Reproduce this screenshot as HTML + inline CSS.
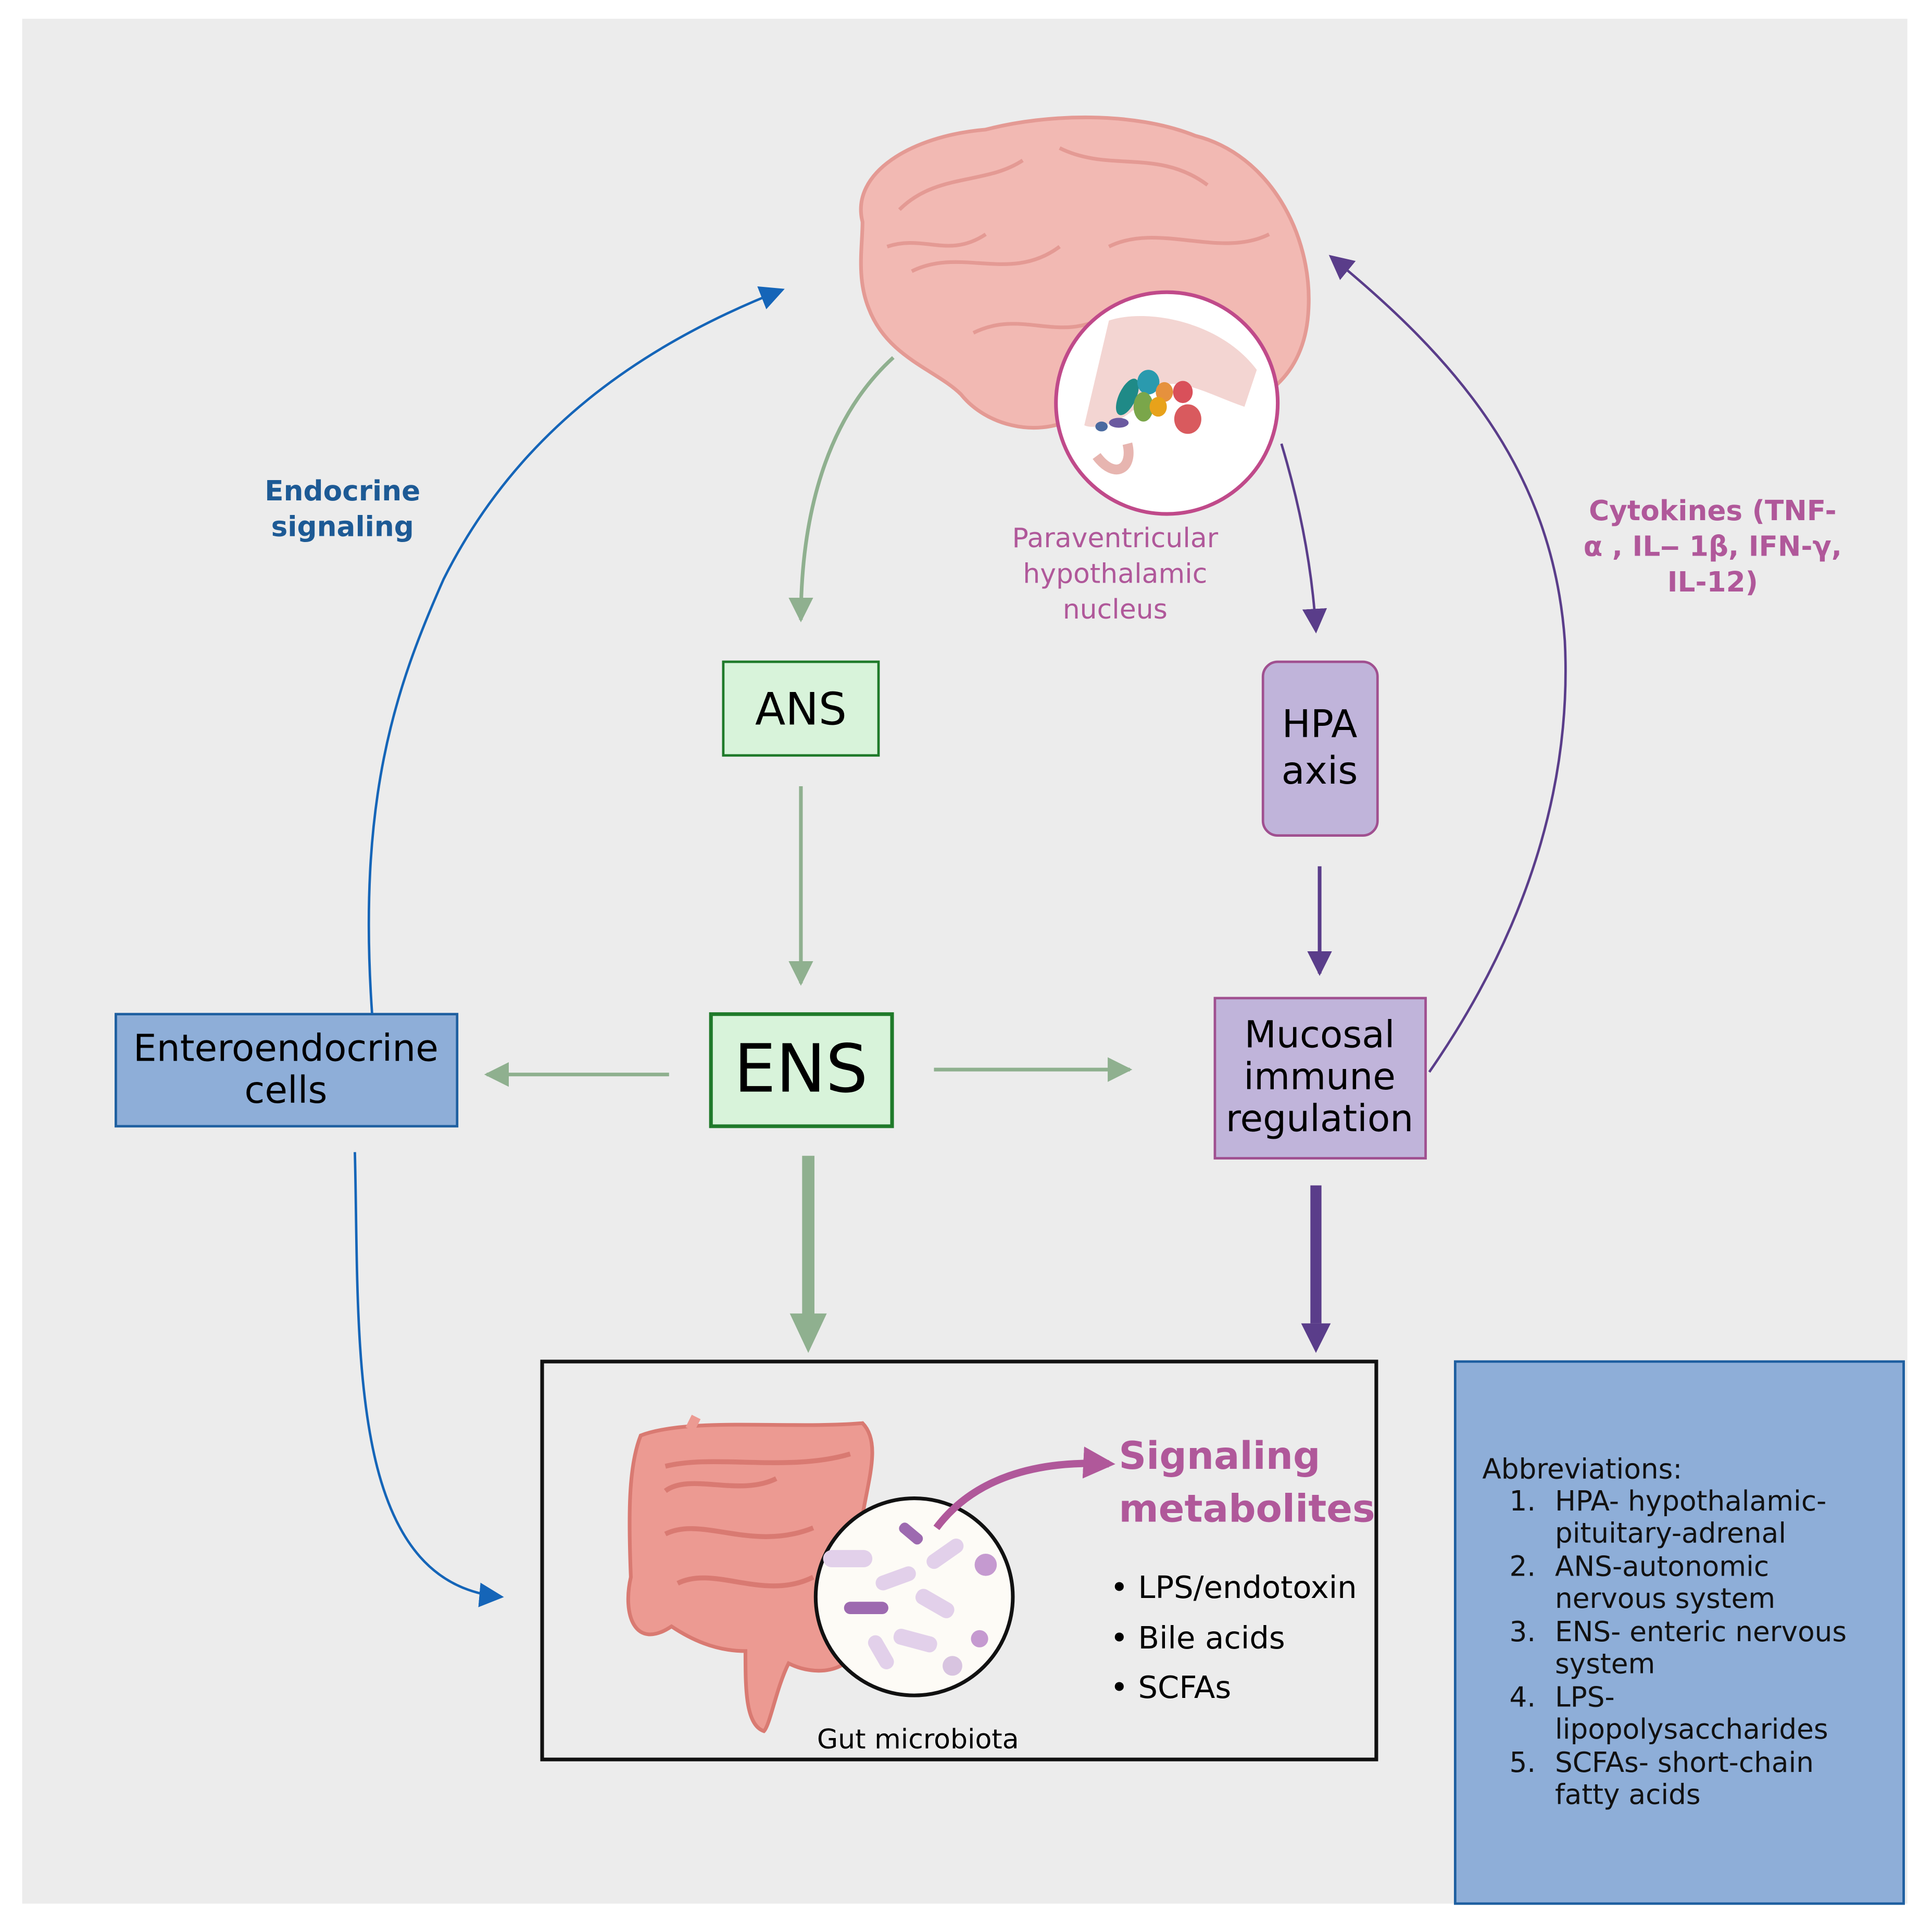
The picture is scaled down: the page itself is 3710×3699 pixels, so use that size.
<!DOCTYPE html>
<html><head><meta charset="utf-8"><style>
html,body{margin:0;padding:0;background:#fff}
svg{display:block}
text{font-family:"DejaVu Sans","Liberation Sans",sans-serif}
</style></head><body>
<svg width="3710" height="3699" viewBox="0 0 1568 1563" xmlns="http://www.w3.org/2000/svg">
<defs>
<marker id="gs" viewBox="0 0 10 10" refX="9" refY="5" markerWidth="20" markerHeight="20" orient="auto" markerUnits="userSpaceOnUse"><path d="M0,0L10,5L0,10z" fill="#8fb08f"/></marker>
<marker id="ps" viewBox="0 0 10 10" refX="9" refY="5" markerWidth="20" markerHeight="20" orient="auto" markerUnits="userSpaceOnUse"><path d="M0,0L10,5L0,10z" fill="#5a3d8a"/></marker>
<marker id="bs" viewBox="0 0 10 10" refX="9" refY="5" markerWidth="20" markerHeight="20" orient="auto" markerUnits="userSpaceOnUse"><path d="M0,0L10,5L0,10z" fill="#1565b8"/></marker>
<marker id="ms" viewBox="0 0 10 10" refX="8" refY="5" markerWidth="26" markerHeight="26" orient="auto" markerUnits="userSpaceOnUse"><path d="M0,0L10,5L0,10z" fill="#b0589a"/></marker>
</defs>
<rect x="18" y="15" width="1530" height="1530" fill="#ececec"/>

<!-- brain -->
<path d="M700,180 C690,140 740,110 800,105 C850,92 920,90 970,110 C1030,125 1065,190 1062,250 C1060,300 1030,330 980,335 C940,345 900,330 870,340 C840,355 800,345 780,320 C760,300 720,290 705,250 C695,225 700,200 700,180z" fill="#f2b9b3" stroke="#e49a94" stroke-width="3"/>
<path d="M730,170 C760,140 800,150 830,130 M860,120 C900,140 940,120 980,150 M740,220 C780,200 820,230 860,200 M900,200 C940,180 990,210 1030,190 M790,270 C830,250 860,280 900,255 M720,200 C750,190 770,210 800,190" stroke="#e49a94" stroke-width="3" fill="none"/>
<circle cx="947" cy="327" r="90" fill="#fff" stroke="#c04a8a" stroke-width="3"/>
<path d="M900,260 C930,250 990,260 1020,300 L1010,330 C980,320 950,300 930,320 C920,340 890,350 880,345z" fill="#f3d5d2"/>
<path d="M890,370 C905,390 920,380 915,360" stroke="#e7b5b0" stroke-width="8" fill="none"/>
<ellipse cx="915" cy="322" rx="7" ry="16" fill="#1f8a87" transform="rotate(25 915 322)"/>
<ellipse cx="932" cy="310" rx="9" ry="10" fill="#2a9aae"/>
<ellipse cx="928" cy="330" rx="8" ry="12" fill="#7aa64a"/>
<ellipse cx="945" cy="318" rx="7" ry="8" fill="#e6913d"/>
<ellipse cx="940" cy="330" rx="7" ry="8" fill="#e8a21a"/>
<ellipse cx="960" cy="318" rx="8" ry="9" fill="#d9505a"/>
<ellipse cx="964" cy="340" rx="11" ry="12" fill="#d95a5e"/>
<ellipse cx="908" cy="343" rx="8" ry="4" fill="#6b5aa0"/>
<ellipse cx="894" cy="346" rx="5" ry="4" fill="#4a6aa0"/>
<text fill="#b0589a" font-size="22" text-anchor="middle"><tspan x="905" y="444">Paraventricular</tspan><tspan x="905" y="473">hypothalamic</tspan><tspan x="905" y="502">nucleus</tspan></text>

<!-- boxes -->
<rect x="587" y="537" width="126" height="76" fill="#d8f3da" stroke="#1f7a2a" stroke-width="2"/>
<text x="650" y="588" font-size="36" text-anchor="middle">ANS</text>
<rect x="1025" y="537" width="93" height="141" rx="12" fill="#c0b4da" stroke="#a05090" stroke-width="2"/>
<text font-size="31" text-anchor="middle"><tspan x="1071" y="598">HPA</tspan><tspan x="1071" y="636">axis</tspan></text>
<rect x="577" y="823" width="147" height="91" fill="#d8f3da" stroke="#1f7a2a" stroke-width="3"/>
<text x="650" y="886" font-size="54" text-anchor="middle">ENS</text>
<rect x="94" y="823" width="277" height="91" fill="#8eaed8" stroke="#1e5fa0" stroke-width="2"/>
<text font-size="30" text-anchor="middle"><tspan x="232" y="861">Enteroendocrine</tspan><tspan x="232" y="895">cells</tspan></text>
<rect x="986" y="810" width="171" height="130" fill="#c0b4da" stroke="#a05090" stroke-width="2"/>
<text font-size="30" text-anchor="middle"><tspan x="1071" y="850">Mucosal</tspan><tspan x="1071" y="884">immune</tspan><tspan x="1071" y="918">regulation</tspan></text>

<!-- arrows -->
<path d="M725,290 C670,340 650,420 650,503" stroke="#8fb08f" stroke-width="3" fill="none" marker-end="url(#gs)"/>
<line x1="650" y1="638" x2="650" y2="798" stroke="#8fb08f" stroke-width="3" marker-end="url(#gs)"/>
<line x1="543" y1="872" x2="395" y2="872" stroke="#8fb08f" stroke-width="3" marker-end="url(#gs)"/>
<line x1="758" y1="868" x2="917" y2="868" stroke="#8fb08f" stroke-width="3" marker-end="url(#gs)"/>
<line x1="656" y1="938" x2="656" y2="1068" stroke="#8fb08f" stroke-width="10"/>
<path d="M641,1066 L671,1066 L656,1098z" fill="#8fb08f"/>
<path d="M1040,360 C1055,410 1065,460 1068,512" stroke="#5a3d8a" stroke-width="2" fill="none" marker-end="url(#ps)"/>
<line x1="1071" y1="703" x2="1071" y2="790" stroke="#5a3d8a" stroke-width="3" marker-end="url(#ps)"/>
<line x1="1068" y1="962" x2="1068" y2="1074" stroke="#5a3d8a" stroke-width="9"/>
<path d="M1056,1074 L1080,1074 L1068,1098z" fill="#5a3d8a"/>
<path d="M1160,870 C1250,740 1275,620 1270,520 C1260,380 1180,290 1080,208" stroke="#5a3d8a" stroke-width="2" fill="none" marker-end="url(#ps)"/>
<path d="M302,823 C290,650 320,560 360,470 C420,350 520,280 635,235" stroke="#1565b8" stroke-width="2" fill="none" marker-end="url(#bs)"/>
<path d="M288,935 C292,1090 280,1285 407,1296" stroke="#1565b8" stroke-width="2" fill="none" marker-end="url(#bs)"/>

<text fill="#1d5a95" font-size="22.5" font-weight="bold" text-anchor="middle"><tspan x="278" y="406">Endocrine</tspan><tspan x="278" y="435">signaling</tspan></text>
<text fill="#b0589a" font-size="22.5" font-weight="bold" text-anchor="middle"><tspan x="1390" y="422">Cytokines (TNF-</tspan><tspan x="1390" y="451">α , IL‒ 1β, IFN-γ,</tspan><tspan x="1390" y="480">IL-12)</tspan></text>

<!-- main box -->
<rect x="440" y="1105" width="677" height="323" fill="none" stroke="#111" stroke-width="3"/>
<path d="M520,1165 C560,1150 640,1160 700,1155 C715,1170 705,1200 700,1230 L700,1330 C690,1360 660,1360 640,1350 C630,1370 625,1400 620,1405 C605,1400 605,1370 605,1340 C580,1340 560,1330 545,1320 C515,1340 505,1310 512,1280 C510,1230 510,1190 520,1165z" fill="#ec9a92" stroke="#d97a72" stroke-width="3"/>
<path d="M540,1210 C560,1195 600,1215 630,1200 M540,1245 C570,1230 610,1260 660,1240 M550,1285 C580,1270 620,1300 660,1280 M540,1190 C580,1180 640,1195 690,1180" stroke="#d97a72" stroke-width="4" fill="none"/>
<path d="M560,1160 L565,1150" stroke="#ec9a92" stroke-width="8"/>
<circle cx="742" cy="1296" r="80" fill="#fdfbf6" stroke="#111" stroke-width="3"/>
<rect x="685" y="1300" width="36" height="10" rx="5" fill="#9d6ab0"/>
<rect x="710" y="1275" width="34" height="12" rx="6" fill="#e2d0ea" transform="rotate(-20 727 1281)"/>
<rect x="742" y="1295" width="34" height="13" rx="6" fill="#e2d0ea" transform="rotate(30 759 1301)"/>
<rect x="725" y="1325" width="36" height="13" rx="6" fill="#e2d0ea" transform="rotate(15 743 1331)"/>
<rect x="750" y="1255" width="34" height="12" rx="6" fill="#e2d0ea" transform="rotate(-35 767 1261)"/>
<rect x="668" y="1258" width="40" height="14" rx="7" fill="#e2d0ea"/>
<rect x="700" y="1335" width="30" height="12" rx="6" fill="#e2d0ea" transform="rotate(60 715 1341)"/>
<rect x="728" y="1240" width="22" height="9" rx="4" fill="#9d6ab0" transform="rotate(40 739 1245)"/>
<circle cx="800" cy="1270" r="9" fill="#c59ad0"/>
<circle cx="773" cy="1352" r="8" fill="#d8c4e0"/>
<circle cx="795" cy="1330" r="7" fill="#c59ad0"/>
<path d="M760,1240 C790,1200 840,1185 900,1188" stroke="#b0589a" stroke-width="6" fill="none" marker-end="url(#ms)"/>
<text fill="#b0589a" font-size="31" font-weight="bold"><tspan x="908" y="1192">Signaling</tspan><tspan x="908" y="1235">metabolites</tspan></text>
<text font-size="25"><tspan x="901" y="1297">• LPS/endotoxin</tspan><tspan x="901" y="1338">• Bile acids</tspan><tspan x="901" y="1378">• SCFAs</tspan></text>
<text x="745" y="1419" font-size="22" text-anchor="middle">Gut microbiota</text>

<!-- abbreviations -->
<rect x="1181" y="1105" width="364" height="440" fill="#8eaed8" stroke="#1e5fa0" stroke-width="2"/>
<text font-size="22.5" fill="#111">
<tspan x="1203" y="1200">Abbreviations:</tspan>
<tspan x="1225" y="1226">1.</tspan><tspan x="1262" y="1226">HPA- hypothalamic-</tspan>
<tspan x="1262" y="1252">pituitary-adrenal</tspan>
<tspan x="1225" y="1279">2.</tspan><tspan x="1262" y="1279">ANS-autonomic</tspan>
<tspan x="1262" y="1305">nervous system</tspan>
<tspan x="1225" y="1332">3.</tspan><tspan x="1262" y="1332">ENS- enteric nervous</tspan>
<tspan x="1262" y="1358">system</tspan>
<tspan x="1225" y="1385">4.</tspan><tspan x="1262" y="1385">LPS-</tspan>
<tspan x="1262" y="1411">lipopolysaccharides</tspan>
<tspan x="1225" y="1438">5.</tspan><tspan x="1262" y="1438">SCFAs- short-chain</tspan>
<tspan x="1262" y="1464">fatty acids</tspan>
</text>
</svg>
</body></html>
